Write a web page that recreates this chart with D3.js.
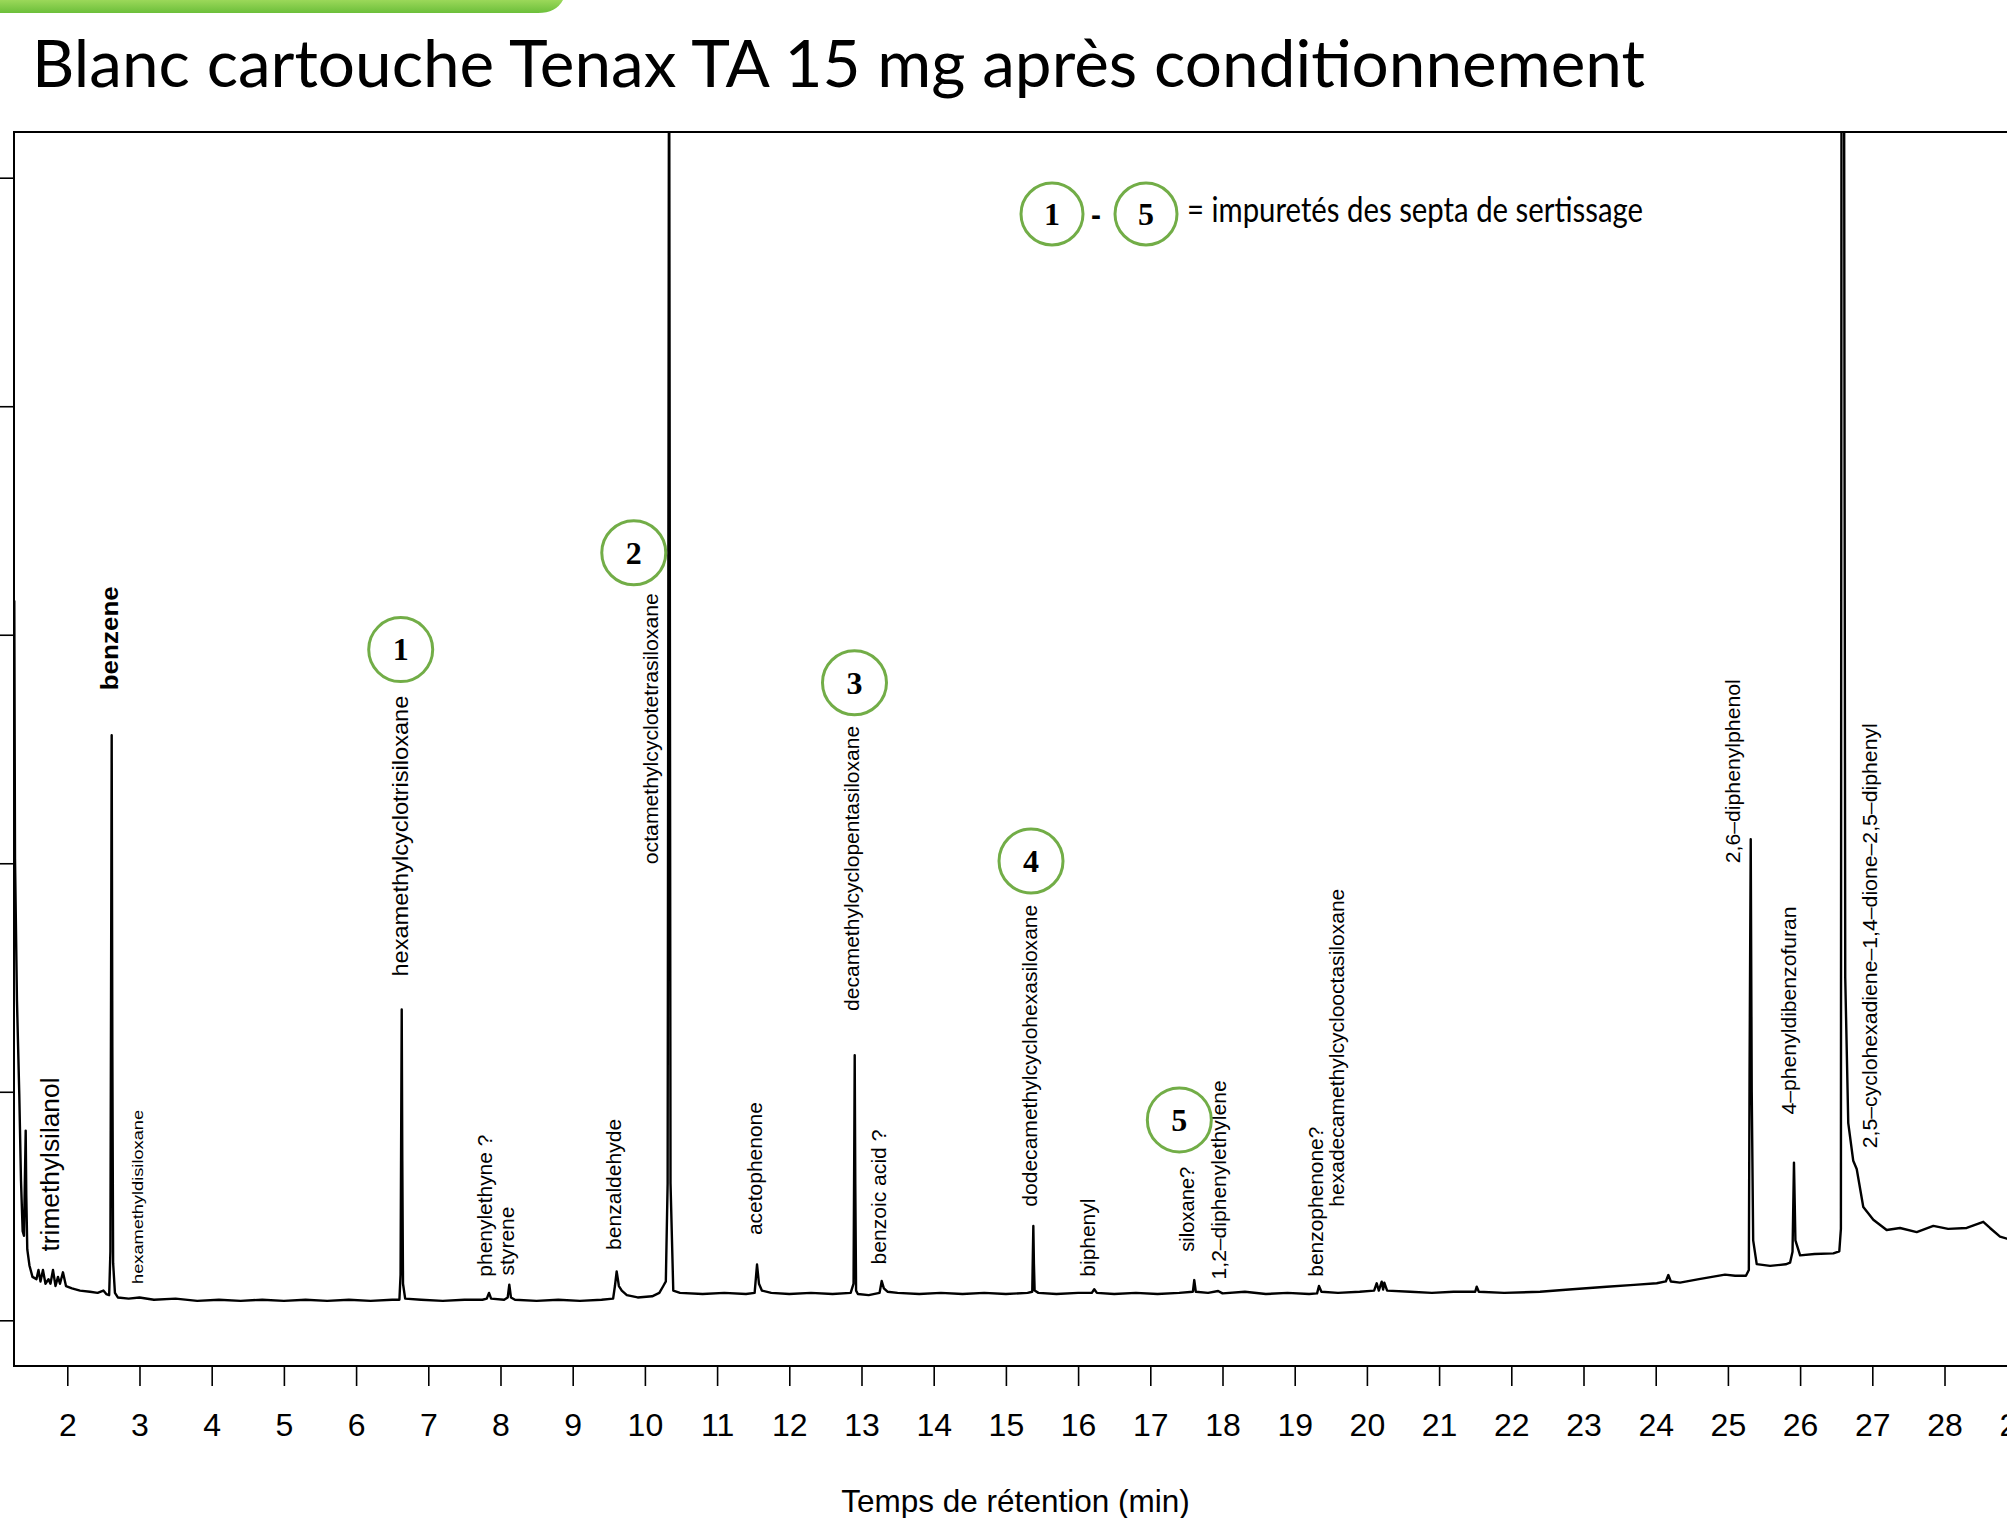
<!DOCTYPE html>
<html>
<head>
<meta charset="utf-8">
<script src="https://cdn.jsdelivr.net/npm/d3@7"></script>
<style>
  html, body { margin: 0; padding: 0; background: #fff; }
  svg { display: block; }
</style>
</head>
<body>
<svg id="chart" width="2007" height="1518"></svg>
<script>
// ---------------- DATA ----------------
const chartTitle = "Blanc cartouche Tenax TA 15 mg après conditionnement";
const xAxisTitle = "Temps de rétention (min)";
const xTickValues = [2,3,4,5,6,7,8,9,10,11,12,13,14,15,16,17,18,19,20,21,22,23,24,25,26,27,28,29];
const yTickValues = [0,1,2,3,4,5];

// chromatogram trace: [retention time (min), abundance (arbitrary units)]
const traceTime = [
  1.266,1.276,1.303,1.335,1.359,1.382,1.400,1.412,1.424,1.432,1.446,1.476,1.518,1.573,1.601,1.629,1.663,1.698,1.740,1.767,
  1.802,1.837,1.871,1.899,1.940,1.982,2.065,2.176,2.314,2.420,2.500,2.540,2.580,
  2.597,2.606,2.615,2.624,2.635,2.660,2.700,2.850,3.000,3.200,3.500,3.800,4.100,4.400,4.700,5.000,5.300,5.600,5.900,6.200,6.500,6.600,
  6.616,6.624,6.632,6.640,6.650,6.680,6.900,7.200,7.500,7.750,7.810,7.841,7.870,8.050,8.100,8.122,8.145,8.200,8.500,8.800,9.100,9.400,
  9.560,9.585,9.609,9.640,9.680,9.750,9.900,10.100,10.200,10.255,10.290,10.315,10.335,10.355,10.393,10.486,
  10.800,11.100,11.400,11.520,11.553,11.580,11.620,11.750,12.000,12.300,12.600,12.850,
  12.890,12.898,12.906,12.914,12.925,12.950,13.100,13.250,13.280,13.310,13.360,13.500,13.800,14.100,14.400,14.700,15.000,15.300,
  15.365,15.373,15.380,15.388,15.398,15.450,15.700,16.000,16.190,16.224,16.260,16.500,16.800,17.100,17.400,17.590,17.609,17.630,
  17.800,17.940,18.000,18.310,18.600,18.900,19.200,19.310,19.336,19.370,19.600,19.900,20.100,20.136,20.165,20.205,20.225,20.241,20.280,
  20.600,20.900,21.200,21.500,21.521,21.550,21.900,22.398,22.800,23.321,23.700,24.014,24.140,24.175,24.210,24.337,24.600,24.960,25.100,25.250,
  25.290,25.300,25.316,25.330,25.350,25.399,25.584,25.800,25.861,25.895,25.915,25.935,26.000,26.200,26.460,26.543,
  26.565,26.575,26.605,26.625,26.667,26.736,26.784,26.875,27.014,27.199,27.384,27.615,27.845,28.050,28.307,28.537,28.630,28.769,28.866,29.000
];
const traceValue = [
  3.150,2.020,1.400,0.990,0.610,0.390,0.370,0.600,0.830,0.550,0.310,0.240,0.190,0.180,0.220,0.170,0.220,0.160,0.180,0.160,
  0.220,0.150,0.190,0.160,0.210,0.150,0.140,0.130,0.125,0.120,0.130,0.115,0.110,
  0.300,1.400,2.560,1.200,0.250,0.120,0.100,0.095,0.100,0.090,0.095,0.085,0.090,0.085,0.090,0.085,0.090,0.085,0.090,0.085,0.090,0.090,
  0.200,0.800,1.360,0.700,0.160,0.095,0.090,0.085,0.090,0.090,0.095,0.120,0.095,0.090,0.100,0.156,0.100,0.090,0.085,0.090,0.085,0.090,
  0.095,0.150,0.214,0.150,0.130,0.110,0.100,0.105,0.120,0.150,0.170,0.600,6.000,0.600,0.130,0.120,
  0.115,0.120,0.115,0.120,0.244,0.160,0.130,0.120,0.115,0.120,0.115,0.120,
  0.160,0.650,1.160,0.600,0.130,0.115,0.110,0.120,0.172,0.140,0.125,0.120,0.115,0.120,0.115,0.120,0.115,0.120,
  0.125,0.280,0.413,0.250,0.130,0.120,0.115,0.120,0.120,0.136,0.120,0.115,0.120,0.115,0.120,0.125,0.176,0.125,
  0.120,0.128,0.118,0.125,0.115,0.120,0.115,0.118,0.150,0.125,0.120,0.125,0.130,0.162,0.130,0.169,0.135,0.165,0.130,
  0.125,0.120,0.125,0.125,0.147,0.125,0.120,0.125,0.135,0.147,0.155,0.162,0.170,0.198,0.170,0.165,0.180,0.200,0.195,0.195,
  0.220,1.100,2.105,1.000,0.350,0.246,0.238,0.245,0.252,0.300,0.690,0.350,0.284,0.290,0.293,0.302,
  0.400,6.500,6.500,1.500,0.863,0.698,0.662,0.496,0.440,0.395,0.404,0.386,0.413,0.400,0.404,0.431,0.404,0.366,0.357,0.350
];

// compound annotations
const labelNames = [
  "trimethylsilanol","benzene","hexamethyldisiloxane","hexamethylcyclotrisiloxane","phenylethyne ?","styrene",
  "benzaldehyde","octamethylcyclotetrasiloxane","acetophenone","decamethylcyclopentasiloxane","benzoic acid ?",
  "dodecamethylcyclohexasiloxane","biphenyl","siloxane?","1,2–diphenylethylene","benzophenone?",
  "hexadecamethylcyclooctasiloxane","2,6–diphenylphenol","4–phenyldibenzofuran","2,5–cyclohexadiene–1,4–dione–2,5–diphenyl"
];
const labelTimes = [1.784,2.615,2.997,6.632,7.809,8.108,9.600,10.102,11.548,12.886,13.270,15.357,16.165,17.526,17.975,19.313,19.604,25.098,25.873,26.991];
const labelBaseValues = [0.301,2.757,0.159,1.504,0.191,0.196,0.308,1.996,0.373,1.354,0.244,0.497,0.191,0.300,0.179,0.191,0.497,2.000,0.901,0.753];

// septum impurity markers 1-5
const markerNumbers = [1,2,3,4,5];
const markerTimes = [6.618,9.846,12.903,15.348,17.402];
const markerValues = [2.935,3.359,2.790,2.010,0.877];

const legendText = "= impuretés des septa de sertissage";

// ---------------- LAYOUT / STYLE ----------------
const W = 2007, H = 1518;
const plot = { left: 14, right: 2017, top: 132, bottom: 1366 };
const green = "#72ad47";
const sansFont = "'Liberation Sans', Arial, Helvetica, sans-serif";
const serifFont = "'Liberation Serif', 'Times New Roman', serif";
const headFont = "Lato, 'Open Sans', sans-serif";
// per-label font size and drawn length (px)
const labelSize =   [25, 24, 15, 21.5, 19.5, 19.5, 19.5, 19.5, 19.5, 20.5, 19.5, 20.5, 19.5, 19.5, 19.5, 19.5, 20.5, 19.5, 19.5, 19.5];
const labelLength = [174,104,174, 281, 142, 69, 131, 271, 133, 285, 135, 302, 78, 85, 199, 150, 318, 184, 208, 425];
const labelBold =   [false,true,false,false,false,false,false,false,false,false,false,false,false,false,false,false,false,false,false,false];

const svg = d3.select("#chart");

// header green bar
const defs = svg.append("defs");
const grad = defs.append("linearGradient").attr("id","barGrad").attr("x1",0).attr("y1",0).attr("x2",0).attr("y2",1);
grad.append("stop").attr("offset","0%").attr("stop-color","#9bd85a");
grad.append("stop").attr("offset","100%").attr("stop-color","#6cbf3a");
svg.append("path")
  .attr("d","M0,0 H563 Q556,13 538,13 H0 Z")
  .attr("fill","url(#barGrad)");

// title
svg.append("text")
  .attr("x",32).attr("y",87)
  .attr("font-family",headFont)
  .attr("font-size",66)
  .attr("fill","#000")
  .attr("textLength",1613)
  .attr("lengthAdjust","spacingAndGlyphs")
  .text(chartTitle);

// scales
const x = d3.scaleLinear().domain([1.262, 29.004]).range([plot.left, plot.right]);
const y = d3.scaleLinear().domain([-0.2, 5.2]).range([plot.bottom, plot.top]);

// clip
defs.append("clipPath").attr("id","plotClip")
  .append("rect").attr("x",plot.left).attr("y",plot.top)
  .attr("width",plot.right-plot.left).attr("height",plot.bottom-plot.top);

// trace
const trace = traceTime.map((t,i)=>[t, traceValue[i]]);
const line = d3.line().x(d=>x(d[0])).y(d=>y(d[1]));
svg.append("path")
  .datum(trace)
  .attr("clip-path","url(#plotClip)")
  .attr("d",line)
  .attr("fill","none")
  .attr("stroke","#000")
  .attr("stroke-width",2.4)
  .attr("stroke-linejoin","round");

// frame
svg.append("rect")
  .attr("x",plot.left).attr("y",plot.top)
  .attr("width",plot.right-plot.left).attr("height",plot.bottom-plot.top)
  .attr("fill","none").attr("stroke","#000").attr("stroke-width",2);

// x axis
const gx = svg.append("g").attr("transform",`translate(0,${plot.bottom})`)
  .call(d3.axisBottom(x).tickValues(xTickValues).tickSize(20).tickSizeOuter(0).tickPadding(27).tickFormat(d3.format("d")));
gx.select(".domain").remove();
gx.selectAll(".tick line").attr("stroke","#000").attr("stroke-width",1.6);
gx.selectAll(".tick text").attr("font-family",sansFont).attr("font-size",32).attr("fill","#000");

// y axis (labels fall outside the visible page)
const gy = svg.append("g").attr("transform",`translate(${plot.left},0)`)
  .call(d3.axisLeft(y).tickValues(yTickValues).tickSize(20).tickSizeOuter(0).tickFormat(""));
gy.select(".domain").remove();
gy.selectAll(".tick line").attr("stroke","#000").attr("stroke-width",1.6);

// x axis title
svg.append("text")
  .attr("x",(plot.left+plot.right)/2).attr("y",1512)
  .attr("text-anchor","middle")
  .attr("font-family",sansFont).attr("font-size",31.5).attr("fill","#000")
  .text(xAxisTitle);

// compound labels
const labels = labelNames.map((n,i)=>({name:n, t:labelTimes[i], v:labelBaseValues[i], size:labelSize[i], len:labelLength[i], bold:labelBold[i]}));
svg.append("g").selectAll("text").data(labels).join("text")
  .attr("transform",d=>`translate(${x(d.t)},${y(d.v)}) rotate(-90)`)
  .attr("text-anchor","start")
  .attr("dy","0.28em")
  .attr("font-family",sansFont)
  .attr("font-size",d=>d.size)
  .attr("font-weight",d=>d.bold?"bold":"normal")
  .attr("textLength",d=>d.len)
  .attr("lengthAdjust","spacingAndGlyphs")
  .attr("fill","#000")
  .text(d=>d.name);

// impurity markers
const markers = markerNumbers.map((n,i)=>({n, t:markerTimes[i], v:markerValues[i]}));
const gm = svg.append("g").selectAll("g").data(markers).join("g")
  .attr("transform",d=>`translate(${x(d.t)},${y(d.v)})`);
gm.append("circle").attr("r",32).attr("fill","#fff").attr("stroke",green).attr("stroke-width",3);
gm.append("text").attr("text-anchor","middle").attr("dy","0.34em")
  .attr("font-family",serifFont).attr("font-weight","bold").attr("font-size",32).attr("fill","#000")
  .text(d=>d.n);

// legend
const legendItems = [markerNumbers[0], markerNumbers[markerNumbers.length-1]];
const legendX = [1052, 1146];
const gl = svg.append("g");
legendItems.forEach((n,i)=>{
  const g = gl.append("g").attr("transform",`translate(${legendX[i]},214)`);
  g.append("circle").attr("r",31).attr("fill","#fff").attr("stroke",green).attr("stroke-width",3);
  g.append("text").attr("text-anchor","middle").attr("dy","0.34em")
    .attr("font-family",serifFont).attr("font-weight","bold").attr("font-size",32).attr("fill","#000").text(n);
});
gl.append("text").attr("x",1096).attr("y",225).attr("text-anchor","middle")
  .attr("font-family",sansFont).attr("font-weight","bold").attr("font-size",30).text("-");
gl.append("text").attr("x",1187).attr("y",222)
  .attr("font-family",headFont).attr("font-size",34)
  .attr("textLength",456).attr("lengthAdjust","spacingAndGlyphs")
  .attr("fill","#000").text(legendText);
</script>
</body>
</html>
